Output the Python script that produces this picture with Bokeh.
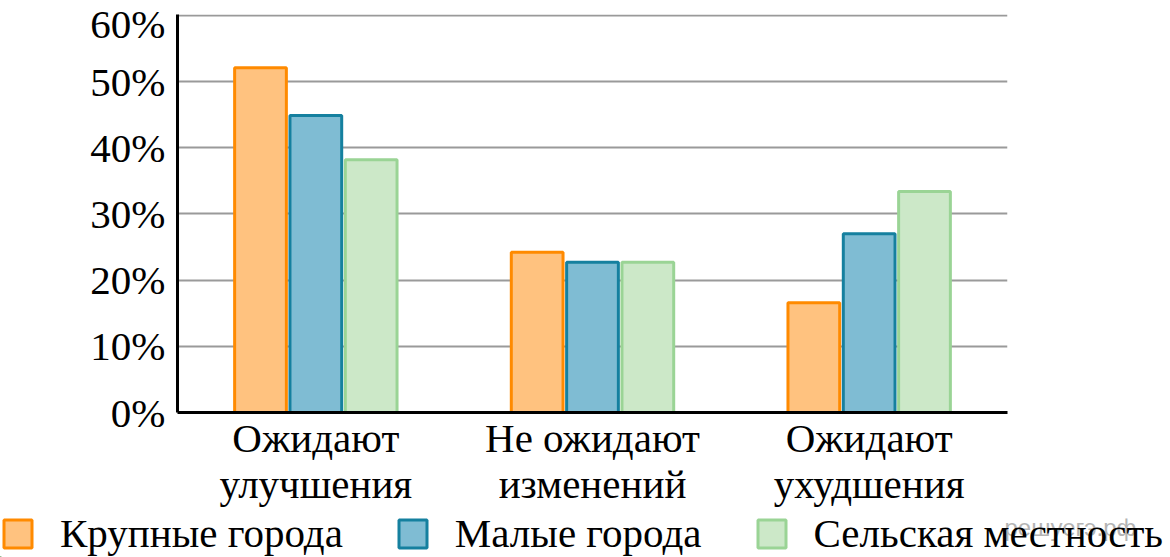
from bokeh.plotting import figure
from bokeh.layouts import column
from bokeh.models import FactorRange, Range1d, ColumnDataSource, Legend, LegendItem, Label
from bokeh.transform import dodge
from bokeh.embed import file_html
from bokeh.resources import INLINE

categories = ["Ожидают\nулучшения", "Не ожидают\nизменений", "Ожидают\nухудшения"]
series_names = ["Крупные города", "Малые города", "Сельская местность"]
big_cities = [52.1, 24.2, 16.6]
small_cities = [44.9, 22.7, 27.0]
rural = [38.2, 22.7, 33.4]
y_ticks = [0, 10, 20, 30, 40, 50, 60]
y_tick_labels = ["0%", "10%", "20%", "30%", "40%", "50%", "60%"]
watermark = "решуегэ.рф"

fills = ["#FFC27F", "#7FBCD3", "#CCE8C8"]
lines = ["#FF8A00", "#15809F", "#9AD495"]
font = "Liberation Serif"

src = ColumnDataSource(dict(cat=categories, a=big_cities, b=small_cities, c=rural))

# main chart
p = figure(x_range=FactorRange(factors=categories, range_padding=0),
           y_range=Range1d(0, 60.15), width=1170, height=509,
           output_backend="svg", toolbar_location=None,
           min_border_left=177, min_border_right=163, min_border_top=14, min_border_bottom=95)
p.outline_line_color = None
p.background_fill_color = "white"

for key, off, f, l in zip(["a", "b", "c"], [-0.2, 0.0, 0.2], fills, lines):
    p.vbar(x=dodge("cat", off, range=p.x_range), top=key, width=0.187, source=src,
           fill_color=f, line_color=l, line_width=3)

p.yaxis.ticker = y_ticks
p.yaxis.major_label_overrides = {t: s for t, s in zip(y_ticks, y_tick_labels)}
for ax in (p.xaxis, p.yaxis):
    ax.axis_line_color = "black"
    ax.axis_line_width = 3
    ax.major_tick_in = 0
    ax.major_tick_out = 0
    ax.minor_tick_in = 0
    ax.minor_tick_out = 0
    ax.major_label_text_font = font
    ax.major_label_text_font_size = "41px"
    ax.major_label_text_color = "black"
p.yaxis.major_label_standoff = 12
p.xaxis.major_label_standoff = 2
p.xaxis.major_label_text_line_height = 1.0

p.xgrid.grid_line_color = None
p.ygrid.grid_line_color = "#9a9a9a"
p.ygrid.grid_line_width = 2

# legend strip
p2 = figure(width=1170, height=48, x_range=Range1d(0, 1), y_range=Range1d(0, 1),
            output_backend="svg", toolbar_location=None,
            x_axis_location=None, y_axis_location=None,
            min_border_left=0, min_border_right=0, min_border_top=0, min_border_bottom=0)
p2.outline_line_color = None
p2.xgrid.grid_line_color = None
p2.ygrid.grid_line_color = None

for fig in (p, p2):
    try:
        fig.frame_align = False
    except Exception:
        pass

legend_renderers = []
for f, l in zip(fills, lines):
    r = p2.vbar(x=[-10], top=[-10], width=0.1, fill_color=f, line_color=l, line_width=3)
    legend_renderers.append(r)

wm = Label(x=1004, y=30, x_units="screen", y_units="screen", text=watermark,
           text_font="Liberation Sans", text_font_size="24px", text_color="#b4b4b4",
           text_baseline="middle")
p2.add_layout(wm)

legend = Legend(items=[LegendItem(label=n, renderers=[r]) for n, r in zip(series_names, legend_renderers)],
                orientation="horizontal", location=(0, 0),
                glyph_width=35, glyph_height=35, label_standoff=25, spacing=52,
                padding=0, margin=0, border_line_color=None, background_fill_alpha=0,
                label_text_font=font, label_text_font_size="41px", label_text_color="black")
p2.add_layout(legend, "center")

layout = column(p, p2, spacing=0)
open("out.html", "w").write(file_html(layout, INLINE))
